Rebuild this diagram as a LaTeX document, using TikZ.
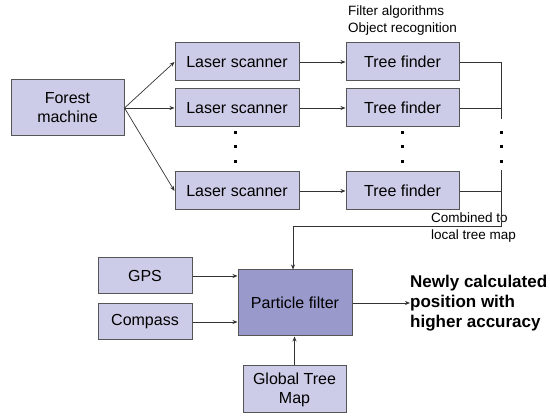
\documentclass[tikz,border=0pt]{standalone}
\usepackage{fontspec}
\setmainfont{Liberation Sans}
\usetikzlibrary{arrows.meta}
\definecolor{boxfill}{HTML}{CCCCE8}
\definecolor{darkfill}{HTML}{9999CC}
\definecolor{boxline}{HTML}{555555}
\begin{document}
\begin{tikzpicture}[x=1pt,y=-1pt,
  box/.style={draw=boxline,line width=1pt,fill=boxfill,inner sep=0pt,align=center,font=\fontsize{16}{19}\selectfont},
  arr/.style={draw=black!80,line width=0.7pt,-{Stealth[length=5pt,width=4pt]}},
  ln/.style={draw=black!80,line width=0.7pt},
  lbl/.style={font=\fontsize{13.5}{17}\selectfont,anchor=north west,inner sep=0pt,align=left},
  dot/.style={fill=black,minimum size=3pt,inner sep=0pt}]
\useasboundingbox (0,0) rectangle (550,419);
\node[box,minimum width=113pt,minimum height=56pt] (fm) at (67.5,108) {Forest\\machine};
\node[box,minimum width=124pt,minimum height=38pt] (l1) at (237,62) {Laser scanner};
\node[box,minimum width=124pt,minimum height=38pt] (l2) at (237,108) {Laser scanner};
\node[box,minimum width=124pt,minimum height=38pt] (l3) at (237,191) {Laser scanner};
\node[box,minimum width=113pt,minimum height=38pt] (t1) at (402.5,62) {Tree finder};
\node[box,minimum width=113pt,minimum height=38pt] (t2) at (402.5,108) {Tree finder};
\node[box,minimum width=113pt,minimum height=38pt] (t3) at (402.5,191) {Tree finder};
\node[box,minimum width=94pt,minimum height=36pt] (gps) at (145,276) {GPS};
\node[box,minimum width=94pt,minimum height=36pt] (cmp) at (145,322) {Compass};
\node[box,fill=darkfill,minimum width=114pt,minimum height=66pt] (pf) at (295,303) {Particle filter};
\node[box,minimum width=103pt,minimum height=47pt] (gtm) at (294.5,389.5) {Global Tree\\Map};
\node[lbl] (fa) at (348,6) {Filter algorithms\\Object recognition};
\node[lbl] (cb) at (431,213) {Combined to\\local tree map};
\node[anchor=west,inner sep=0pt,align=left,font=\bfseries\fontsize{17}{20}\selectfont] (out) at (410,303) {Newly calculated\\position with\\higher accuracy};
% dots
\foreach \x/\n in {235/a,402/b,501/c}{
  \node[dot] (\n1) at (\x,133) {};
  \node[dot] (\n2) at (\x,147) {};
  \node[dot] (\n3) at (\x,162) {};
}
\coordinate (r1) at (501,62);
\coordinate (r2) at (501,108);
\coordinate (r2b) at (501,119);
\coordinate (r3top) at (501,170);
\coordinate (r3) at (501,191);
\coordinate (rb) at (501,226);
\coordinate (lb) at (293,226);
% arrows
\draw[arr] (fm.east) -- (l1.west);
\draw[arr] (fm.east) -- (l2.west);
\draw[arr] (fm.east) -- (l3.west);
\draw[arr] (l1) -- (t1);
\draw[arr] (l2) -- (t2);
\draw[arr] (l3) -- (t3);
\draw[ln] (t1.east) -- (r1) -- (r2b);
\draw[ln] (t2.east) -- (r2);
\draw[ln] (t3.east) -- (r3);
\draw[ln] (r3top) -- (rb) -- (lb);
\draw[arr] (lb) -- (lb |- pf.north);
\draw[arr] (gps.east) -- (gps.east -| pf.west);
\draw[arr] (cmp.east) -- (cmp.east -| pf.west);
\draw[arr] (gtm.north) -- (gtm.north |- pf.south);
\draw[arr] (pf.east) -- (out.west);
\end{tikzpicture}
\end{document}
